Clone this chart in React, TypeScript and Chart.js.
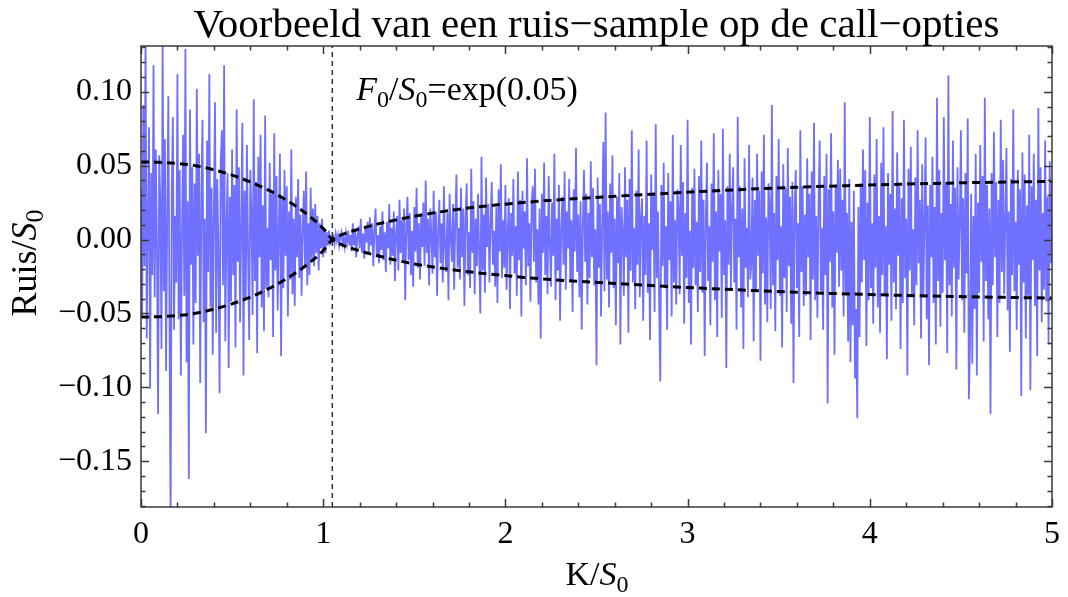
import React, { useEffect, useRef } from "react";
import { Chart, registerables } from "chart.js";

Chart.register(...registerables);

// ---------- texts ----------
const TITLE = "Voorbeeld van een ruis\u2212sample op de call\u2212opties";

// ---------- axes ----------
const X_MIN = 0;
const X_MAX = 5;
const Y_MIN = -0.181;
const Y_MAX = 0.131;
const xTickValues = [0, 1, 2, 3, 4, 5];
const yTickValues = [-0.15, -0.1, -0.05, 0, 0.05, 0.1];

// forward level F0/S0 = exp(0.05)
const forwardK = 1.05;

// ---------- noise sample (step in K/S0) ----------
const noiseStep = 0.00625;

// K/S0 from 0 up to forwardK
const noiseLeft = [
  0.034, -0.052, 0.091, -0.018, 0.142, -0.067, 0.009, 0.076, -0.101, 0.045, -0.024, 0.118, -0.039, 0.061, -0.006, -0.118,
  0.057, 0.022, -0.074, 0.136, -0.035, 0.068, -0.089, 0.013, 0.097, -0.048, -0.195, 0.031, 0.083, -0.061, 0.016, -0.029,
  0.112, -0.054, 0.047, -0.092, 0.004, 0.071, -0.038, 0.129, -0.083, 0.026, -0.162, 0.088, -0.017, 0.049, -0.071, 0.038,
  -0.043, 0.102, -0.011, 0.058, -0.097, 0.027, 0.081, -0.056, 0.014, -0.131, 0.067, -0.022, 0.112, -0.046, 0.035, -0.078,
  0.019, 0.093, -0.063, 0.041, -0.008, -0.104, 0.052, 0.074, -0.031, 0.118, -0.069, 0.006, 0.045, -0.087, 0.029, -0.042,
  0.061, -0.024, 0.037, -0.073, 0.088, -0.015, 0.049, -0.056, 0.011, 0.079, -0.092, 0.033, -0.041, 0.064, -0.009, -0.068,
  0.047, 0.017, -0.051, 0.095, -0.028, 0.039, -0.077, 0.056, -0.012, 0.071, -0.046, 0.023, -0.062, 0.084, -0.033, 0.008,
  -0.039, 0.052, -0.014, 0.031, -0.066, 0.072, -0.021, 0.043, -0.048, 0.006, 0.058, -0.079, 0.027, -0.033, 0.047, -0.011,
  0.036, -0.052, 0.019, -0.027, 0.061, -0.037, 0.014, -0.045,
  0.029, -0.012, 0.041, -0.026, 0.017, -0.038, 0.008, 0.033, -0.019, 0.046, -0.031, 0.011, -0.024, 0.035, -0.015, 0.021,
  -0.018, 0.024, -0.009, 0.016, -0.021, 0.011, -0.006, 0.014, -0.012, 0.007, -0.009, 0.005, -0.004, 0.006, -0.002, 0.001,
];

// K/S0 from forwardK up to 5
const noiseRight = [
  0, 0.002, -0.003, 0.004, -0.001, 0.003, -0.004, 0.002, 0.005, -0.003, 0.001, -0.005, 0.004, -0.002, 0.006, -0.004,
  0.003, -0.008, 0.011, -0.004, 0.007, -0.012, 0.002, 0.009, -0.006, 0.014, -0.009, 0.004, -0.013, 0.008, -0.002, 0.012,
  -0.009, 0.015, -0.004, 0.011, -0.018, 0.006, 0.021, -0.012, 0.003, -0.016, 0.009, -0.007, 0.019, -0.014, 0.005, -0.022,
  0.012, -0.006, 0.024, -0.017, 0.008, -0.011, 0.019, -0.028, 0.004, 0.016, -0.021, 0.027, -0.009, 0.013, -0.015, 0.021,
  -0.041, 0.009, 0.029, -0.014, 0.018, -0.024, 0.006, -0.032, 0.022, -0.008, 0.035, -0.019, 0.011, -0.027, 0.016, -0.005,
  0.025, -0.018, 0.04, -0.009, 0.014, -0.031, 0.021, 0.004, -0.023, 0.033, -0.012, 0.019, -0.038, 0.007, 0.027, -0.016,
  0.011, -0.029, 0.036, -0.006, -0.022, 0.018, -0.041, 0.031, 0.002, -0.015, 0.024, -0.034, 0.013, 0.044, -0.019, 0.008,
  -0.027, 0.035, -0.012, 0.021, -0.045, 0.016, 0.038, -0.024, 0.005, -0.033, 0.048, -0.009, 0.026, -0.037, 0.014, -0.018,
  0.031, -0.011, -0.05, 0.056, -0.021, 0.017, -0.036, 0.042, -0.005, 0.024, -0.029, 0.012, 0.039, -0.017, 0.006, -0.032,
  0.022, -0.043, 0.034, -0.008, 0.051, -0.026, 0.013, -0.019, 0.037, -0.034, 0.004, 0.028, -0.047, 0.018, -0.011, 0.041,
  -0.023, 0.009, -0.038, 0.046, -0.014, 0.027, -0.052, 0.033, -0.006, 0.019, -0.031, 0.055, -0.018, 0.011, -0.042, 0.024,
  0.036, -0.015, 0.048, -0.029, 0.007, -0.044, 0.021, -0.067, 0.031, -0.009, 0.052, -0.024, 0.016, -0.037, 0.043, -0.003,
  -0.032, 0.025, -0.011, 0.058, -0.041, 0.014, -0.021, 0.037, -0.055, 0.008, 0.029, -0.017, 0.046, -0.034, 0.019, -0.006,
  0.041, -0.028, 0.013, -0.049, 0.034, -0.008, 0.062, -0.022, 0.017, -0.039, 0.026, -0.061, 0.009, 0.047, -0.015, 0.031,
  -0.044, 0.018, -0.026, 0.053, -0.012, 0.035, -0.031, 0.007, -0.085, 0.042, -0.019, 0.024, -0.052, 0.011, 0.066, -0.035,
  0.086, -0.027, 0.019, -0.046, 0.038, -0.009, 0.057, -0.033, 0.014, -0.058, 0.029, -0.016, 0.045, -0.071, 0.022, 0.006,
  -0.038, 0.049, -0.012, 0.027, -0.063, 0.041, -0.021, 0.074, -0.029, 0.008, -0.047, 0.033, -0.017, 0.061, -0.039, 0.015,
  0.028, -0.055, 0.016, -0.024, 0.067, -0.036, 0.011, -0.068, 0.044, -0.007, 0.031, -0.049, 0.078, -0.026, 0.019, -0.041,
  -0.096, 0.037, -0.018, 0.052, -0.033, 0.009, -0.061, 0.045, -0.014, 0.026, -0.052, 0.071, -0.029, 0.013, -0.044, 0.034,
  0.021, -0.037, 0.064, -0.011, 0.039, -0.057, 0.018, -0.026, 0.081, -0.043, 0.006, -0.071, 0.035, -0.019, 0.048, -0.031,
  0.012, -0.049, 0.043, -0.022, 0.067, -0.036, 0.027, -0.079, 0.014, 0.052, -0.028, 0.009, -0.058, 0.038, -0.015, 0.072,
  -0.041, 0.019, -0.066, 0.047, -0.008, 0.031, -0.053, 0.075, -0.024, 0.013, -0.087, 0.036, -0.017, 0.058, -0.034, 0.022,
  0.049, -0.029, 0.014, -0.061, 0.083, -0.012, 0.036, -0.046, 0.021, -0.074, 0.055, -0.019, 0.008, -0.039, 0.064, -0.027,
  -0.016, 0.042, -0.069, 0.027, -0.035, 0.058, -0.011, 0.033, -0.082, 0.046, -0.023, 0.071, -0.044, 0.015, -0.056, 0.038,
  0.024, -0.047, 0.091, -0.031, 0.018, -0.062, 0.043, -0.014, 0.068, -0.038, 0.009, -0.073, 0.051, -0.026, 0.035, -0.049,
  0.062, -0.018, 0.029, -0.057, 0.039, -0.097, 0.021, 0.047, -0.033, 0.011, -0.066, 0.074, -0.022, 0.036, -0.045, 0.017,
  -0.038, 0.055, -0.012, 0.031, -0.068, 0.046, -0.027, 0.079, -0.041, 0.016, -0.053, 0.024, 0.067, -0.035, 0.008, -0.061,
  0.043, -0.024, 0.058, -0.111, 0.034, -0.015, 0.072, -0.046, 0.019, -0.078, 0.037, -0.009, 0.054, -0.032, 0.048, -0.021,
  0.027, -0.052, 0.093, -0.036, 0.018, -0.069, 0.041, -0.083, 0.012, -0.058, 0.033, -0.094, -0.047, -0.121, 0.022, -0.066,
  0.038, -0.029, 0.061, -0.014, 0.047, -0.072, 0.025, -0.041, 0.083, -0.033, 0.011, -0.057, 0.044, -0.019, 0.068, -0.046,
  0.016, -0.063, 0.052, -0.024, 0.076, -0.038, 0.009, -0.081, 0.045, -0.017, 0.031, -0.055, 0.087, -0.029, 0.021, -0.047,
  0.059, -0.011, 0.036, -0.074, 0.028, -0.043, 0.081, -0.026, 0.014, -0.092, 0.048, -0.021, 0.063, -0.037, 0.007, -0.058,
  0.042, -0.031, 0.074, -0.016, 0.027, -0.067, 0.051, -0.039, 0.012, 0.069, -0.054, 0.023, -0.085, 0.037, -0.012, 0.056,
  -0.043, 0.022, -0.071, 0.096, -0.028, 0.047, -0.059, 0.018, -0.036, 0.083, -0.014, 0.039, -0.077, 0.111, -0.031, 0.024,
  -0.052, 0.067, -0.019, 0.035, -0.088, 0.049, -0.027, 0.011, 0.074, -0.041, 0.028, -0.063, 0.045, -0.023, 0.082, -0.108,
  -0.071, 0.031, -0.084, 0.016, -0.047, 0.058, -0.092, 0.025, -0.036, 0.064, -0.015, 0.043, -0.069, 0.096, -0.028, 0.037,
  -0.054, 0.021, -0.118, 0.045, -0.031, 0.073, -0.012, 0.039, -0.066, 0.027, -0.043, 0.081, -0.022, 0.054, -0.037, 0.014,
  0.062, -0.048, 0.019, -0.076, 0.041, -0.024, 0.088, -0.035, 0.012, -0.061, 0.047, -0.017, 0.034, -0.106, 0.059, -0.029,
  0.044, -0.067, 0.023, -0.038, 0.071, -0.102, 0.036, -0.014, 0.058, -0.045, 0.027, -0.079, 0.089, -0.021, 0.049, -0.056,
  0.018, -0.034, 0.067, -0.042, 0.029, -0.071, 0.053, -0.016, 0.038,
];

// ---------- dashed envelope curves ----------
const envKLeft = [0, 0.1, 0.2, 0.3, 0.4, 0.5, 0.6, 0.7, 0.8, 0.9, 1.0];
const envLeftUpper = [0.0525, 0.0523, 0.0515, 0.05, 0.0472, 0.0436, 0.039, 0.0334, 0.0265, 0.0182, 0.0075];
const envLeftLower = [-0.0524, -0.0522, -0.0514, -0.0499, -0.0471, -0.0435, -0.0389, -0.0333, -0.0264, -0.0181, -0.0075];
const envKRight = [1.1, 1.2, 1.3, 1.4, 1.5, 1.7, 1.9, 2.1, 2.3, 2.6, 2.9, 3.2, 3.6, 4.0, 4.5, 5.0];
const envRightUpper = [0.0032, 0.0072, 0.0105, 0.0133, 0.0158, 0.0198, 0.0228, 0.0251, 0.027, 0.0293, 0.0314, 0.0333, 0.0354, 0.0369, 0.0384, 0.0394];
const envRightLower = [-0.0034, -0.0076, -0.011, -0.014, -0.0165, -0.0203, -0.0232, -0.0256, -0.0275, -0.0297, -0.0318, -0.0336, -0.0357, -0.0372, -0.0386, -0.0396];

const FONT = '"Liberation Serif", "Times New Roman", serif';

type Part = { t: string; it?: boolean; sub?: boolean };

function drawRich(ctx: CanvasRenderingContext2D, parts: Part[], x: number, y: number, size: number, align: "left" | "center") {
  const fontFor = (p: Part) => `${p.it ? "italic " : ""}${p.sub ? Math.round(size * 0.72) : size}px ${FONT}`;
  let w = 0;
  for (const p of parts) {
    ctx.font = fontFor(p);
    w += ctx.measureText(p.t).width;
  }
  let cx = align === "center" ? x - w / 2 : x;
  ctx.textAlign = "left";
  ctx.textBaseline = "alphabetic";
  for (const p of parts) {
    ctx.font = fontFor(p);
    ctx.fillText(p.t, cx, y + (p.sub ? size * 0.2 : 0));
    cx += ctx.measureText(p.t).width;
  }
}

const framePlugin = {
  id: "mmaFrame",
  afterDraw(chart: any) {
    const { ctx, chartArea: a, scales } = chart;
    const xs = scales.x;
    const ys = scales.y;
    ctx.save();
    ctx.strokeStyle = "#3a3a3a";
    ctx.lineWidth = 1.5;
    ctx.strokeRect(a.left, a.top, a.right - a.left, a.bottom - a.top);
    ctx.beginPath();
    for (let i = 0; i <= 25; i++) {
      const v = i * 0.2;
      const px = Math.round(xs.getPixelForValue(v)) + 0.5;
      const len = i % 5 === 0 ? 8 : 4.5;
      ctx.moveTo(px, a.bottom);
      ctx.lineTo(px, a.bottom - len);
      ctx.moveTo(px, a.top);
      ctx.lineTo(px, a.top + len);
    }
    for (let i = -18; i <= 13; i++) {
      const v = i / 100;
      const py = Math.round(ys.getPixelForValue(v)) + 0.5;
      if (py < a.top || py > a.bottom) continue;
      const len = i % 5 === 0 ? 8 : 4.5;
      ctx.moveTo(a.left, py);
      ctx.lineTo(a.left + len, py);
      ctx.moveTo(a.right, py);
      ctx.lineTo(a.right - len, py);
    }
    ctx.stroke();

    ctx.fillStyle = "#000";
    // title
    ctx.font = `41px ${FONT}`;
    ctx.textAlign = "center";
    ctx.textBaseline = "alphabetic";
    ctx.fillText(TITLE, (a.left + a.right) / 2, 37);
    // x axis title
    drawRich(ctx, [{ t: "K/" }, { t: "S", it: true }, { t: "0", sub: true }], 597, 585, 34, "center");
    // y axis title
    ctx.save();
    ctx.translate(36, 263);
    ctx.rotate(-Math.PI / 2);
    drawRich(ctx, [{ t: "Ruis/" }, { t: "S", it: true }, { t: "0", sub: true }], 0, 0, 36, "center");
    ctx.restore();
    // annotation
    drawRich(
      ctx,
      [{ t: "F", it: true }, { t: "0", sub: true }, { t: "/" }, { t: "S", it: true }, { t: "0", sub: true }, { t: "=exp(0.05)" }],
      xs.getPixelForValue(forwardK) + 24,
      100,
      34,
      "left"
    );
    ctx.restore();
  },
};

export default function App() {
  const ref = useRef<HTMLCanvasElement | null>(null);
  useEffect(() => {
    document.body.style.margin = "0";
    const canvas = ref.current;
    if (!canvas) return;
    const noiseData = [
      ...noiseLeft.map((y, i) => ({ x: i * noiseStep, y })),
      ...noiseRight.map((y, j) => ({ x: forwardK + j * noiseStep, y })),
    ];
    const curveA = [
      ...envKLeft.map((k, i) => ({ x: k, y: envLeftUpper[i] })),
      { x: forwardK, y: 0 },
      ...envKRight.map((k, i) => ({ x: k, y: envRightLower[i] })),
    ];
    const curveB = [
      ...envKLeft.map((k, i) => ({ x: k, y: envLeftLower[i] })),
      { x: forwardK, y: 0 },
      ...envKRight.map((k, i) => ({ x: k, y: envRightUpper[i] })),
    ];
    const chart = new Chart(canvas, {
      type: "line",
      data: {
        datasets: [
          {
            data: curveA,
            borderColor: "#000",
            borderWidth: 3,
            borderDash: [8, 5],
            pointRadius: 0,
            cubicInterpolationMode: "monotone",
            order: 1,
          },
          {
            data: curveB,
            borderColor: "#000",
            borderWidth: 3,
            borderDash: [8, 5],
            pointRadius: 0,
            cubicInterpolationMode: "monotone",
            order: 1,
          },
          {
            data: [
              { x: forwardK, y: Y_MIN },
              { x: forwardK, y: Y_MAX },
            ],
            borderColor: "#333",
            borderWidth: 1.5,
            borderDash: [5, 4],
            pointRadius: 0,
            order: 2,
          },
          {
            data: noiseData,
            borderColor: "rgba(92, 92, 255, 0.88)",
            borderWidth: 1.8,
            borderJoinStyle: "miter",
            pointRadius: 0,
            tension: 0,
            order: 3,
          },
        ],
      },
      options: {
        animation: false,
        responsive: false,
        maintainAspectRatio: false,
        events: [],
        layout: { padding: { top: 46, right: 10, left: 0, bottom: 0 } },
        plugins: {
          legend: { display: false },
          title: { display: false },
          tooltip: { enabled: false },
        },
        scales: {
          x: {
            type: "linear",
            min: X_MIN,
            max: X_MAX,
            grid: { display: false, drawTicks: false },
            border: { display: false },
            afterBuildTicks: (s: any) => {
              s.ticks = xTickValues.map((v) => ({ value: v }));
            },
            afterFit: (s: any) => {
              s.height = 90;
            },
            ticks: {
              font: { family: FONT, size: 32 },
              color: "#000",
              padding: 8,
              autoSkip: false,
              maxRotation: 0,
              callback: (v: any) => String(v),
            },
          },
          y: {
            type: "linear",
            min: Y_MIN,
            max: Y_MAX,
            grid: { display: false, drawTicks: false },
            border: { display: false },
            afterBuildTicks: (s: any) => {
              s.ticks = yTickValues.map((v) => ({ value: v }));
            },
            afterFit: (s: any) => {
              s.width = 141;
            },
            ticks: {
              font: { family: FONT, size: 32 },
              color: "#000",
              padding: 9,
              autoSkip: false,
              callback: (v: any) => {
                const n = Number(v);
                const s = Math.abs(n).toFixed(2);
                return n < -1e-9 ? "\u2212" + s : s;
              },
            },
          },
        },
      },
      plugins: [framePlugin],
    } as any);
    return () => chart.destroy();
  }, []);
  return (
    <div style={{ position: "fixed", left: 0, top: 0, width: 1068, height: 597, background: "#fff" }}>
      <canvas ref={ref} width={1068} height={597} style={{ display: "block" }} />
    </div>
  );
}
